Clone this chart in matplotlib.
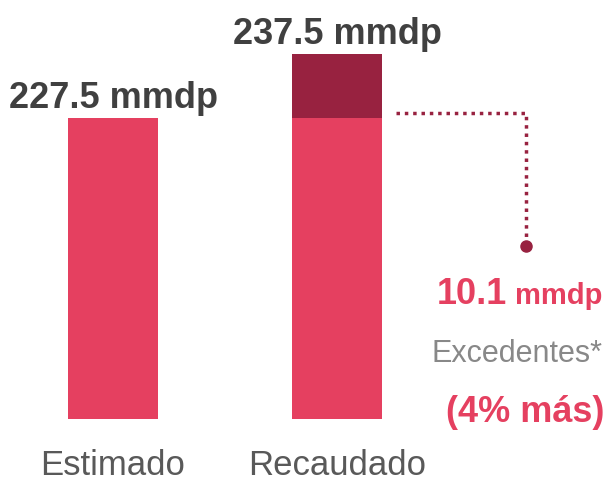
import matplotlib
matplotlib.use("Agg")
import matplotlib.pyplot as plt

# data
categorias = ["Estimado", "Recaudado"]
estimado = 227.5
recaudado = 237.5
excedente = 10.1
porcentaje = 4
eje_base = 180.5  # the value axis does not start at zero

rosa = "#E54060"
vino = "#982240"
gris_oscuro = "#404040"
gris = "#888888"

plt.rcParams["font.family"] = ["Liberation Sans", "DejaVu Sans"]

W, H = 614, 481
fig = plt.figure(figsize=(W / 100, H / 100), dpi=100)
ax = fig.add_axes([0, (H - 420) / H, 1, 420 / H])

px_x = 224.0          # pixels per category step
px_y = 301.0 / (estimado - eje_base)
ancho = 90 / px_x

pos = list(range(len(categorias)))
ax.bar(pos, [estimado, estimado], width=ancho, color=rosa, bottom=0)
ax.bar(pos[1], recaudado - estimado, width=ancho, bottom=estimado, color=vino)

ax.set_xlim(-113 / px_x, (W - 113) / px_x)
ax.set_ylim(eje_base, eje_base + 420 / px_y)

# value labels
for x, v in zip(pos, [estimado, recaudado]):
    ax.annotate(f"{v} mmdp", (x, v), xytext=(0, 8), textcoords="offset points",
                ha="center", va="baseline", fontsize=26, fontweight="bold",
                color=gris_oscuro)

# dotted connector from the excess block
x0 = pos[1] + ancho / 2 + 14 / px_x
x1 = (526 - 113) / px_x
y0 = estimado + 5 / px_y
y1 = eje_base + (420 - 247) / px_y
ax.plot([x0, x1, x1], [y0, y0, y1], color=vino, lw=2.5,
        linestyle=(0, (1, 1.4)), dash_capstyle="butt", solid_joinstyle="miter")
ax.plot([x1], [y1], "o", color=vino, markersize=8)

# side annotation
fig.text(602 / W, 1 - 304 / H, "mmdp", ha="right", va="baseline",
         fontsize=21, fontweight="bold", color=rosa)
fig.text(507 / W, 1 - 304 / H, f"{excedente}", ha="right", va="baseline",
         fontsize=26, fontweight="bold", color=rosa)
fig.text(603 / W, 1 - 362 / H, "Excedentes*", ha="right", va="baseline",
         fontsize=22, color=gris)
fig.text(604 / W, 1 - 422 / H, f"({porcentaje}% más)", ha="right", va="baseline",
         fontsize=26, fontweight="bold", color=rosa)

ax.set_xticks(pos)
ax.set_xticklabels(categorias, fontsize=25, color="#595959")
ax.tick_params(axis="x", length=0, pad=21)
ax.set_yticks([])
for s in ax.spines.values():
    s.set_visible(False)

fig.savefig("out.png", dpi=100)
